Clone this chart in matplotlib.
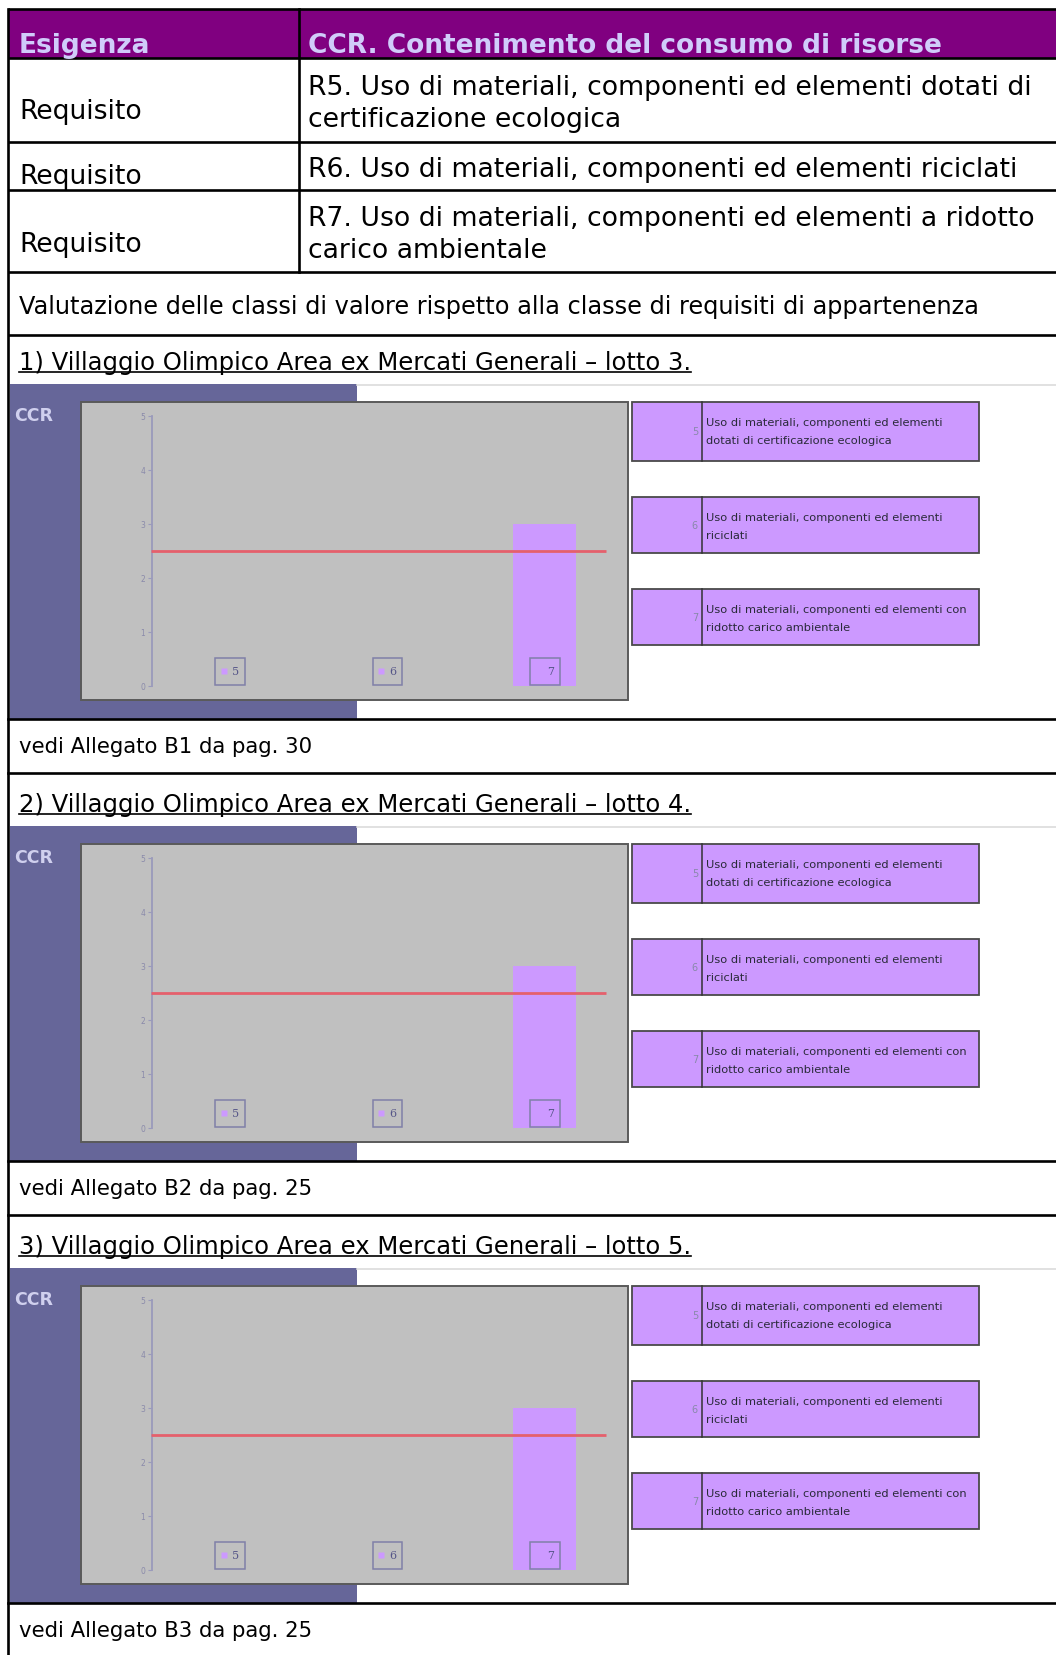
import matplotlib
matplotlib.use("Agg")
import matplotlib.pyplot as plt
from matplotlib.patches import Rectangle

# ---- data ----
header_left = "Esigenza"
header_right = "CCR. Contenimento del consumo di risorse"
req_label = "Requisito"
requirements = [
    "R5. Uso di materiali, componenti ed elementi dotati di\ncertificazione ecologica",
    "R6. Uso di materiali, componenti ed elementi riciclati",
    "R7. Uso di materiali, componenti ed elementi a ridotto\ncarico ambientale",
]
valutazione = "Valutazione delle classi di valore rispetto alla classe di requisiti di appartenenza"
section_titles = [
    "1) Villaggio Olimpico Area ex Mercati Generali \u2013 lotto 3.",
    "2) Villaggio Olimpico Area ex Mercati Generali \u2013 lotto 4.",
    "3) Villaggio Olimpico Area ex Mercati Generali \u2013 lotto 5.",
]
section_refs = [
    "vedi Allegato B1 da pag. 30",
    "vedi Allegato B2 da pag. 25",
    "vedi Allegato B3 da pag. 25",
]
chart_label = "CCR"
categories = ["5", "6", "7"]
values_lotto3 = [0, 0, 3]
values_lotto4 = [0, 0, 3]
values_lotto5 = [0, 0, 3]
threshold = 2.5
y_ticks = [0, 1, 2, 3, 4, 5]
legend_labels = [
    "Uso di materiali, componenti ed elementi\ndotati di certificazione ecologica",
    "Uso di materiali, componenti ed elementi\nriciclati",
    "Uso di materiali, componenti ed elementi con\nridotto carico ambientale",
]
all_values = [values_lotto3, values_lotto4, values_lotto5]

# ---- page ----
W, H = 1056, 1656
fig = plt.figure(figsize=(W / 100, H / 100), dpi=100)
page = fig.add_axes([0, 0, 1, 1])
page.set_xlim(0, W)
page.set_ylim(H, 0)
page.axis("off")

FS_TOP = 19.2
FS = 17.5
FS_REF = 15.3
LW = 1.9
purple_dark = "#800080"
lav_text = "#d0ccfa"

# header row
page.add_patch(Rectangle((8, 10), W, 49, facecolor=purple_dark, edgecolor="none"))
page.text(19, 53, header_left, fontsize=19, fontweight="bold", color=lav_text, va="baseline")
page.text(308, 53, header_right, fontsize=19, fontweight="bold", color=lav_text, va="baseline")

# table lines
for y in [10, 59, 143, 191, 273, 336]:
    page.plot([8, W], [y, y], color="black", lw=LW, solid_capstyle="butt")
page.plot([8, 8], [10, H], color="black", lw=LW)
page.plot([299, 299], [10, 273], color="black", lw=LW)

# requirement rows
req_base = [119, 184, 252]
desc_base = [95, 177, 226]
for rb, db, txt in zip(req_base, desc_base, requirements):
    page.text(19, rb, req_label, fontsize=FS_TOP, va="baseline")
    for k, line in enumerate(txt.split("\n")):
        page.text(308, db + 32 * k, line, fontsize=FS_TOP, va="baseline")

page.text(19, 314, valutazione, fontsize=17.3, va="baseline")

title_texts = []
step = 442
for s in range(3):
    dy = step * s
    t = page.text(19, 370 + dy, section_titles[s], fontsize=FS, va="baseline")
    title_texts.append((t, 373 + dy))
    page.text(19, 753 + dy, section_refs[s], fontsize=FS_REF, va="baseline")
    page.plot([8, W], [720 + dy, 720 + dy], color="black", lw=LW, zorder=5)
    page.plot([8, W], [774 + dy, 774 + dy], color="black", lw=LW, zorder=5)

    # image background
    page.plot([357, W], [386 + dy, 386 + dy], color="#dcdcdc", lw=1.2)
    page.add_patch(Rectangle((10, 385 + dy), 347, 335, facecolor="#666699", edgecolor="none"))
    page.text(14, 416 + dy, chart_label, fontsize=12.5, fontweight="bold",
              color="#d0d0ee", va="center")
    page.add_patch(Rectangle((81, 403 + dy), 547, 298, facecolor="#c0c0c0",
                             edgecolor="#5a5a5a", lw=1.4, zorder=2))

    # legend boxes
    tops = [403, 498, 590]
    hts = [59, 56, 56]
    for j in range(3):
        top = tops[j] + dy
        page.add_patch(Rectangle((632, top), 347, hts[j], facecolor="#cc99ff",
                                 edgecolor="#4a4a4a", lw=1.3, zorder=2))
        page.plot([702, 702], [top, top + hts[j]], color="#333333", lw=1.1, zorder=3)
        page.text(698, top + hts[j] / 2, categories[j], fontsize=7, color="#8888aa",
                  ha="right", va="center", zorder=3)
        for k, line in enumerate(legend_labels[j].split("\n")):
            page.text(706, top + 20 + 18 * k, line, fontsize=8.2, color="#2a2a3a",
                      va="center", zorder=3)

    # chart axes
    x0, x1, y0, y1 = 81, 628, 403 + dy, 701 + dy
    ax = fig.add_axes([x0 / W, (H - y1) / H, (x1 - x0) / W, (y1 - y0) / H])
    ax.patch.set_alpha(0)
    ax.set_ylim(-(701 - 687) / 54, 5 + (417 - 403) / 54)
    ax.set_xlim((81 - 230) / 157.5, (628 - 230) / 157.5)
    ax.bar(range(len(categories)), all_values[s], width=0.4, color="#cc99ff", zorder=2)
    ax.hlines(threshold, -0.5, 2.39, color="#e5606c", lw=2, zorder=3)
    for side in ["top", "right", "bottom"]:
        ax.spines[side].set_visible(False)
    ax.spines["left"].set_position(("data", -0.495))
    ax.spines["left"].set_bounds(0, 5)
    ax.spines["left"].set_color("#9a9abb")
    ax.spines["left"].set_linewidth(1.3)
    ax.set_yticks(y_ticks)
    ax.tick_params(axis="y", length=3, width=0.8, color="#9a9abb", labelsize=5.5,
                   labelcolor="#8a8aaa", pad=2)
    ax.set_xticks([])
    for i, c in enumerate(categories):
        ax.add_patch(Rectangle((i - 0.095, 0.02), 0.19, 0.5, facecolor="none",
                               edgecolor="#8080a8", lw=1.1, zorder=4))
        ax.plot(i - 0.04, 0.27, marker="s", ms=5, color="#cc99ff", mec="none", zorder=4)
        ax.text(i + 0.035, 0.27, c, fontsize=8, color="#555588", ha="center",
                va="center", family="DejaVu Serif", zorder=5)

# underline titles
fig.canvas.draw()
inv = page.transData.inverted()
for t, yu in title_texts:
    bb = t.get_window_extent()
    xa = inv.transform((bb.x0, 0))[0]
    xb = inv.transform((bb.x1, 0))[0]
    page.plot([xa, xb], [yu, yu], color="black", lw=1.2)

fig.savefig("out.png", dpi=100)
